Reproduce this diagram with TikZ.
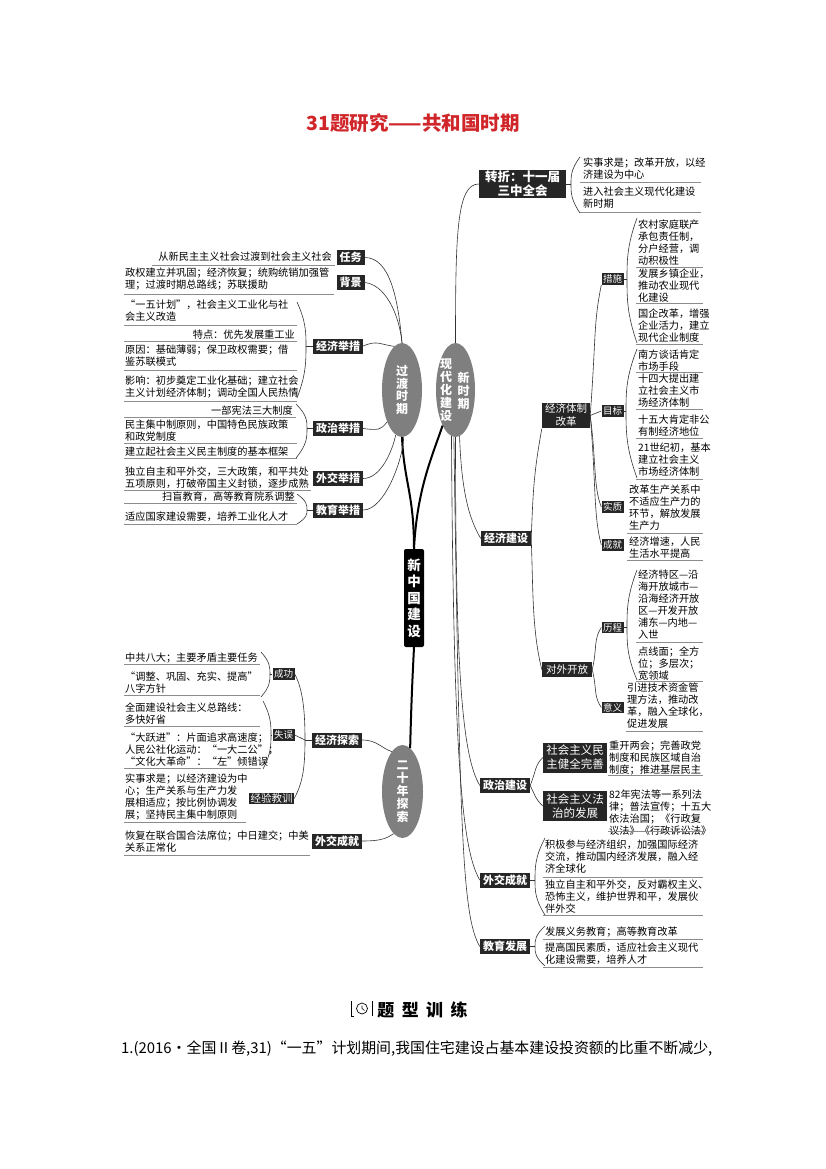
\documentclass[tikz,border=0pt]{standalone}
\usepackage{fontspec}
\setmainfont{Noto Sans CJK SC}
\usetikzlibrary{shapes.geometric}
\definecolor{labc}{HTML}{262626}
\definecolor{ellc}{HTML}{7F7F7F}
\definecolor{ulc}{HTML}{8C8C8C}
\definecolor{linec}{HTML}{333333}
\definecolor{titlec}{HTML}{D0262A}
\newcommand{\mybrk}[5]{\draw[conn] (#1,#2) .. controls ({#3},{#2+0.45*(#4-#2)}) and ({#3},{#4-0.3*(#4-#2)}) .. (#3,#4) .. controls ({#3},{#4+0.3*(#5-#4)}) and ({#3},{#5-0.45*(#5-#4)}) .. (#1,#5);}
\begin{document}
\begin{tikzpicture}[x=1pt,y=-1pt,
 lab/.style={fill=labc,text=white,font=\fontsize{11}{13}\selectfont\bfseries,inner xsep=3pt,inner ysep=1.5pt,minimum height=15pt},
 slab/.style={fill=labc,text=white,font=\fontsize{9.5}{11}\selectfont,inner xsep=1.5pt,inner ysep=0.5pt,minimum height=11.5pt},
 mlab/.style={fill=labc,text=white,font=\fontsize{10.5}{13}\selectfont,inner xsep=3pt,inner ysep=1.5pt,minimum height=15pt,align=center},
 plab/.style={fill=labc,text=white,font=\fontsize{11.5}{14}\selectfont,inner xsep=3pt,inner ysep=2pt,minimum width=64pt,minimum height=30pt,align=center},
 ell/.style={ellipse,fill=ellc,text=white,font=\fontsize{12}{12.8}\selectfont\bfseries,inner sep=0pt,minimum width=40pt,minimum height=94pt,align=center},
 vtx/.style={text=white,font=\fontsize{12}{13}\selectfont\bfseries,inner sep=0pt,align=center},
 cbox/.style={rounded corners=2pt,fill=black,text=white,font=\fontsize{13.5}{16.5}\selectfont\bfseries,inner sep=0pt,minimum width=20pt,minimum height=98pt,align=center},
 txl/.style={anchor=north west,yshift=5pt,align=left,inner sep=0pt,font=\fontsize{10.2}{12}\selectfont},
 txr/.style={anchor=north east,yshift=5pt,align=right,inner sep=0pt,font=\fontsize{10.2}{12}\selectfont},
 ul/.style={draw=ulc,line width=0.7pt},
 conn/.style={draw=linec,line width=0.6pt},
 thk/.style={draw=black,line width=2pt}]
\useasboundingbox[fill=white] (0,0) rectangle (826,1169);

\node[text=titlec,font=\fontsize{19.5}{22}\selectfont\bfseries] (title) at (413,123) {31题研究——共和国时期};

% ---- centre ----
\node[cbox] (C) at (414,598) {新\\中\\国\\建\\设};
\node[ell] (E1) at (402,390) {过\\渡\\时\\期};
\node[ell,minimum width=39pt] (E2) at (455.5,390) {};
\node[vtx] (E2a) at (446,390) {现\\代\\化\\建\\设};
\node[vtx] (E2b) at (463.5,391) {新\\时\\期};
\node[ell,minimum width=41pt,minimum height=93pt,font=\fontsize{12}{13}\selectfont\bfseries] (E3) at (402.5,791.5) {二\\十\\年\\探\\索};

\draw[thk] (C.north) .. controls +(0,-55) and +(2,45) .. (E1.south);
\draw[thk] (C.north) .. controls +(3,-60) and +(-10,30) .. (E2.250);
\draw[thk] (C.south) .. controls +(-2,40) and +(1,-40) .. (E3.80);

% ---- left top labels ----
\node[lab] (T1) at (350.5,257.5) {任务};
\node[lab] (T2) at (350.5,282.5) {背景};
\node[lab] (L3) at (338,346) {经济举措};
\node[lab] (L4) at (338,428.5) {政治举措};
\node[lab] (L5) at (338,478.5) {外交举措};
\node[lab] (L6) at (338,510) {教育举措};

\draw[conn] (T1.east) .. controls +(25,0) and +(-4,-45) .. (E1.north);
\draw[conn] (T2.east) .. controls +(20,2) and +(-3,-30) .. (E1.north);
\draw[conn] (L3.east) .. controls +(14,-6) and +(-15,-2) .. (E1.100);
\draw[conn] (L4.east) .. controls +(15,2) and +(-6,8) .. (E1.245);
\draw[conn] (L5.east) .. controls +(18,0) and +(-3,15) .. (E1.262);
\draw[conn] (L6.east) .. controls +(22,0) and +(0,20) .. (E1.272);

\node[txr] (t1) at (332,257) {从新民主主义社会过渡到社会主义社会};
\draw[ul] (152,265) -- (335,265);
\node[txl] (t2) at (125,273) {政权建立并巩固；经济恢复；统购统销加强管\\理；过渡时期总路线；苏联援助};
\draw[ul] (124,294) -- (334,294);

\node[txl] (t3a) at (125,305) {“一五计划”，社会主义工业化与社\\会主义改造};
\draw[ul] (124,325) -- (297,325);
\node[txr] (t3b) at (295,335) {特点：优先发展重工业};
\draw[ul] (124,341.5) -- (297,341.5);
\node[txl] (t3c) at (125,350) {原因：基础薄弱；保卫政权需要；借\\鉴苏联模式};
\draw[ul] (124,370) -- (297,370);
\node[txl] (t3d) at (125,381) {影响：初步奠定工业化基础；建立社会\\主义计划经济体制；调动全国人民热情};
\draw[ul] (124,401) -- (297,401);
\mybrk{297}{302}{306}{346}{398}
\draw[conn] (306,346) -- (L3.west);

\node[txr] (t4a) at (293,411) {一部宪法三大制度};
\draw[ul] (124,417) -- (296,417);
\node[txl] (t4b) at (125,425) {民主集中制原则，中国特色民族政策\\和政党制度};
\draw[ul] (124,443) -- (297,443);
\node[txl] (t4c) at (125,452) {建立起社会主义民主制度的基本框架};
\draw[ul] (124,458.5) -- (297,458.5);
\mybrk{296}{404}{307}{428.5}{458}
\draw[conn] (307,428.5) -- (L4.west);

\node[txl] (t5) at (125,472) {独立自主和平外交，三大政策，和平共处\\五项原则，打破帝国主义封锁，逐步成熟};
\draw[ul] (124,490) -- (311,490);

\node[txr] (t6a) at (295,497) {扫盲教育，高等教育院系调整};
\draw[ul] (124,503) -- (297,503);
\node[txl] (t6b) at (125,517) {适应国家建设需要，培养工业化人才};
\draw[ul] (124,524) -- (297,524);
\mybrk{297}{494}{307}{510}{524}
\draw[conn] (307,510) -- (L6.west);

% ---- left bottom ----
\node[lab] (L7) at (337,740) {经济探索};
\node[lab] (L8) at (337,841) {外交成就};
\node[slab] (G1) at (283.5,674) {成功};
\node[slab] (G2) at (283.5,735) {失误};
\node[slab,font=\fontsize{10.5}{12}\selectfont] (G3) at (271.5,798.5) {经验教训};
\coordinate (J7) at (305,740);
\draw[conn] (G1.east) .. controls +(8,15) and +(0,-30) .. (J7);
\draw[conn] (J7) .. controls +(0,30) and +(8,-15) .. (G3.east);
\draw[conn] (G2.east) -- (J7);
\draw[conn] (J7) -- (L7.west);
\draw[conn] (L7.east) .. controls +(15,0) and +(-10,-3) .. (E3.105);
\draw[conn] (L8.east) .. controls +(15,0) and +(-8,6) .. (E3.258);

\node[txl] (g1a) at (125,658) {中共八大；主要矛盾主要任务};
\draw[ul] (124,664.5) -- (260,664.5);
\node[txl] (g1b) at (125,677) {“调整、巩固、充实、提高”\\八字方针};
\draw[ul] (124,695) -- (260,695);
\mybrk{261}{652}{270}{674}{697}
\draw[conn] (270,674) -- (G1.west);
\node[txl] (g2a) at (125,708) {全面建设社会主义总路线：\\多快好省};
\draw[ul] (124,726) -- (260,726);
\node[txl] (g2b) at (125,738) {“大跃进”：片面追求高速度；\\人民公社化运动：“一大二公”；\\“文化大革命”：“左”倾错误};
\draw[ul] (124,768) -- (261,768);
\mybrk{263}{701}{271}{735}{769}
\draw[conn] (271,735) -- (G2.west);
\node[txl] (g3) at (125,779) {实事求是；以经济建设为中\\心；生产关系与生产力发\\展相适应；按比例协调发\\展；坚持民主集中制原则};
\draw[ul] (124,822) -- (246,822);
\node[txl] (l8t) at (125,836) {恢复在联合国合法席位；中日建交；中美\\关系正常化};
\draw[ul] (124,855) -- (310,855);

% ---- right side ----
\node[lab,font=\fontsize{12.5}{14}\selectfont\bfseries,inner xsep=6pt,align=center] (Z1) at (522.5,184) {转折：十一届\\三中全会};
\node[lab] (EB) at (506,538.5) {经济建设};
\node[mlab] (J1) at (566,415.5) {经济体制\\改革};
\node[mlab,minimum width=50pt] (K1) at (567,669.5) {对外开放};
\node[slab] (S1) at (612.5,279) {措施};
\node[slab] (S2) at (612.5,411) {目标};
\node[slab] (S3) at (612.5,507) {实质};
\node[slab] (S4) at (612.5,545) {成就};
\node[slab] (H1) at (612.5,627.5) {历程};
\node[slab] (H2) at (612.5,707.5) {意义};
\node[lab] (P1) at (505,785.5) {政治建设};
\node[plab] (P2) at (575,757.5) {社会主义民\\主健全完善};
\node[plab] (P3) at (575,806) {社会主义法\\治的发展};
\node[lab] (W1) at (505,880) {外交成就};
\node[lab] (D1) at (505,946.5) {教育发展};

\draw[conn] (E2.north) .. controls +(0,-110) and +(-22,0) .. (Z1.west);
\draw[conn] (E2.275) .. controls +(2,55) and +(-12,-20) .. (EB.west);
\draw[conn] (E2.south) .. controls +(0,230) and +(-18,-30) .. (P1.west);
\draw[conn] (E2.265) .. controls +(2,320) and +(-18,-30) .. (W1.west);
\draw[conn] (E2.268) .. controls +(6,390) and +(-18,-30) .. (D1.west);

\draw[conn] (EB.east) .. controls +(2,-50) and +(-8,45) .. (J1.south west);
\draw[conn] (EB.east) .. controls +(2,50) and +(-10,-40) .. (K1.west);
\draw[conn] (J1.east) .. controls +(6,-80) and +(-8,40) .. (S1.south west);
\draw[conn] (J1.east) -- (S2.west);
\draw[conn] (J1.east) .. controls +(6,45) and +(-8,-20) .. (S3.west);
\draw[conn] (J1.east) .. controls +(6,70) and +(-8,-30) .. (S4.west);
\draw[conn] (K1.east) .. controls +(5,-20) and +(-8,12) .. (H1.west);
\draw[conn] (K1.east) .. controls +(5,20) and +(-8,-12) .. (H2.west);
\draw[conn] (P1.east) .. controls +(6,-15) and +(-8,8) .. (P2.west);
\draw[conn] (P1.east) .. controls +(6,12) and +(-8,-8) .. (P3.west);

\node[txl] (z1a) at (583,163) {实事求是；改革开放，以经\\济建设为中心};
\draw[ul] (580,182) -- (701,182);
\node[txl] (z1b) at (583,192) {进入社会主义现代化建设\\新时期};
\draw[ul] (580,212) -- (701,212);
\mybrk{580}{157}{571}{184}{213}
\draw[conn] (Z1.east) -- (571,184);

\node[txl] (s1a) at (638,225) {农村家庭联产\\承包责任制，\\分户经营，调\\动积极性};
\draw[ul] (636,267) -- (703,267);
\node[txl] (s1b) at (638,274) {发展乡镇企业，\\推动农业现代\\化建设};
\draw[ul] (636,303) -- (703,303);
\node[txl] (s1c) at (638,314) {国企改革，增强\\企业活力，建立\\现代企业制度};
\draw[ul] (636,344) -- (703,344);
\mybrk{637}{218}{627}{279}{343}
\draw[conn] (S1.east) -- (627,279);

\node[txl] (s2a) at (638,355) {南方谈话肯定\\市场手段};
\draw[ul] (636,372) -- (703,372);
\node[txl] (s2b) at (638,379) {十四大提出建\\立社会主义市\\场经济体制};
\draw[ul] (636,409) -- (703,409);
\node[txl] (s2c) at (638,420) {十五大肯定非公\\有制经济地位};
\draw[ul] (636,438) -- (703,438);
\node[txl] (s2d) at (638,448) {21世纪初，基本\\建立社会主义\\市场经济体制};
\draw[ul] (636,479) -- (703,479);
\mybrk{637}{349}{626}{411}{478}
\draw[conn] (S2.east) -- (626,411);

\node[txl] (s3t) at (629,490) {改革生产关系中\\不适应生产力的\\环节，解放发展\\生产力};
\draw[ul] (627,533) -- (703,533);
\node[txl] (s4t) at (629,542) {经济增速，人民\\生活水平提高};
\draw[ul] (627,560) -- (703,560);

\node[txl] (h1a) at (638,575) {经济特区—沿\\海开放城市—\\沿海经济开放\\区—开发开放\\浦东—内地—\\入世};
\draw[ul] (636,642) -- (703,642);
\node[txl] (h1b) at (638,652) {点线面；全方\\位；多层次；\\宽领域};
\draw[ul] (636,681) -- (703,681);
\mybrk{637}{570}{627}{627.5}{680}
\draw[conn] (H1.east) -- (627,627.5);
\node[txl] (h2t) at (627,688) {引进技术资金管\\理方法，推动改\\革，融入全球化，\\促进发展};
\draw[ul] (626,731) -- (703,731);

\node[txl] (p2t) at (609,746) {重开两会；完善政党\\制度和民族区域自治\\制度；推进基层民主};
\draw[ul] (608,775) -- (703,775);
\node[txl] (p3t) at (609,795) {82年宪法等一系列法\\律；普法宣传；十五大\\依法治国；《行政复\\议法》《行政诉讼法》};
\draw[ul] (608,831) -- (703,831);

\node[txl] (w1a) at (545,845) {积极参与经济组织，加强国际经济\\交流，推动国内经济发展，融入经\\济全球化};
\draw[ul] (543,877) -- (703,877);
\node[txl] (w1b) at (545,885) {独立自主和平外交，反对霸权主义、\\恐怖主义，维护世界和平，发展伙\\伴外交};
\draw[ul] (543,915) -- (703,915);
\mybrk{545}{838}{535}{880}{915}
\draw[conn] (W1.east) -- (535,880);

\node[txl] (d1a) at (545,932) {发展义务教育；高等教育改革};
\draw[ul] (543,939) -- (703,939);
\node[txl] (d1b) at (545,948) {提高国民素质，适应社会主义现代\\化建设需要，培养人才};
\draw[ul] (543,967) -- (703,967);
\mybrk{545}{926}{535}{946.5}{966}
\draw[conn] (D1.east) -- (535,946.5);

% ---- bottom ----
\draw[line width=0.7pt] (351,1001) -- (351,1016) -- (354,1016);
\draw[line width=0.7pt] (362,1008.5) circle (5.5pt);
\draw[line width=0.6pt] (362,1005.5) -- (362,1008.5) -- (364.5,1010.5);
\draw[line width=0.7pt] (372,1001) -- (372,1016);
\node[font=\fontsize{17}{20}\selectfont\bfseries] (hd) at (422.5,1010) {题\hspace{7.5pt}型\hspace{7.5pt}训\hspace{7.5pt}练};
\node[anchor=west,inner sep=0pt,font=\fontsize{14.9}{17}\selectfont] (q1) at (121,1049) {1.(2016·全国Ⅱ卷,31)“一五”计划期间,我国住宅建设占基本建设投资额的比重不断减少,};
\end{tikzpicture}
\end{document}
